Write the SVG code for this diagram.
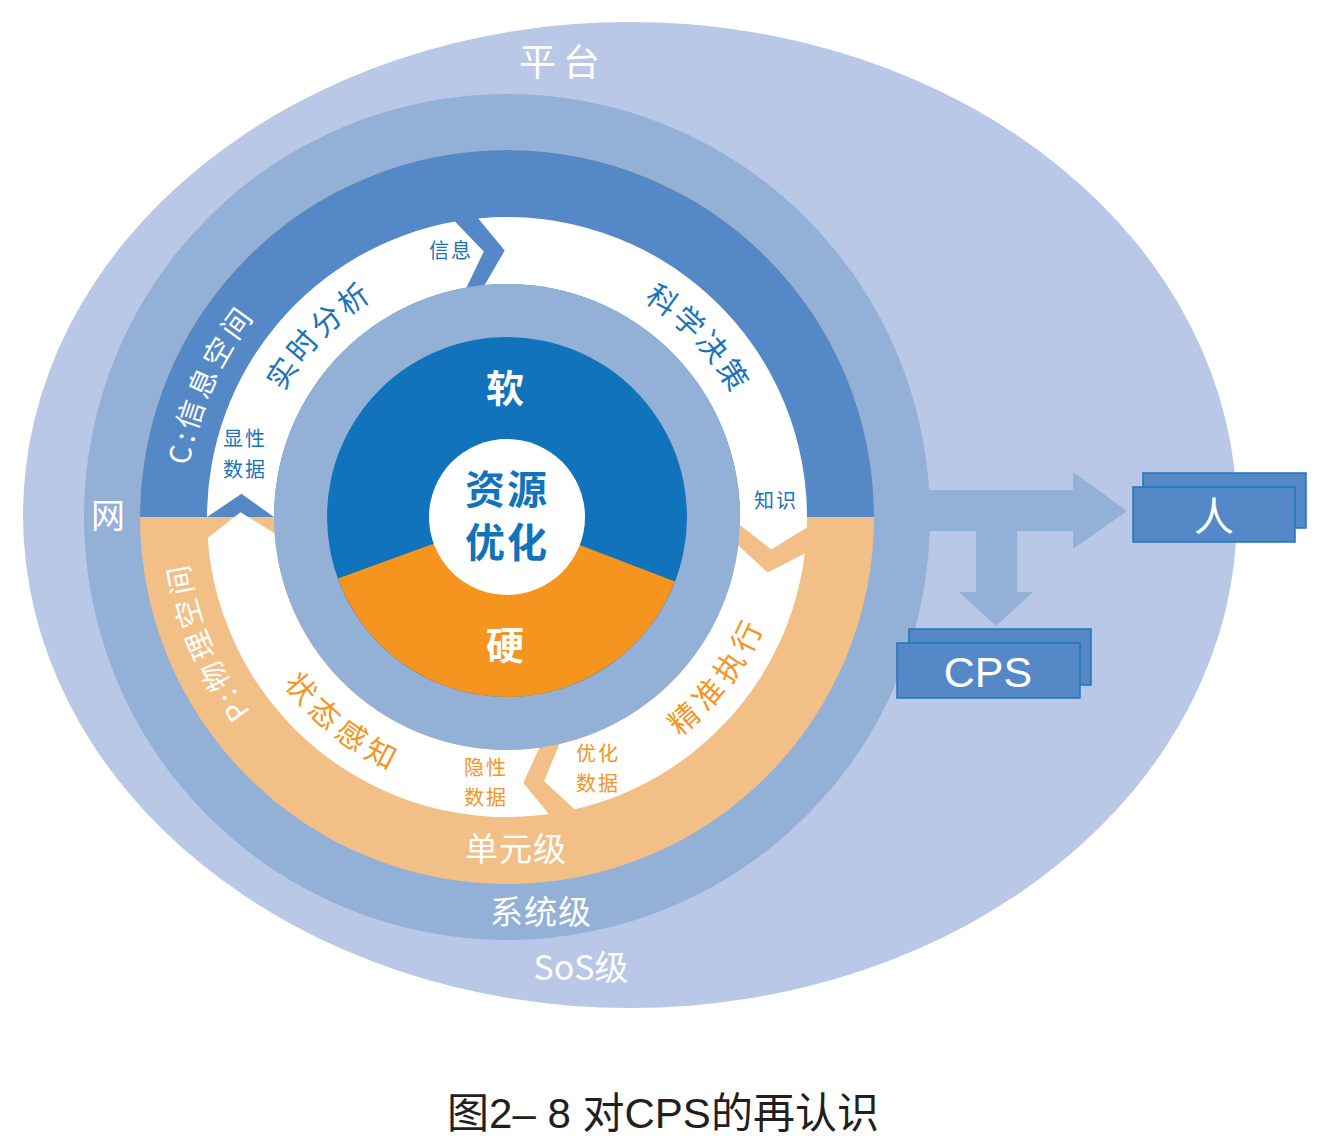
<svg xmlns="http://www.w3.org/2000/svg" xmlns:xlink="http://www.w3.org/1999/xlink" width="1329" height="1136" viewBox="0 0 1329 1136">
<style>
text{font-family:"Noto Sans CJK SC","Liberation Sans",sans-serif;}
.w{fill:#ffffff;}
.b{fill:#1a74bb;}
.o{fill:#f5941e;}
.c{text-anchor:middle;dominant-baseline:central;}
.lbl{font-size:20px;letter-spacing:2px;text-anchor:middle;}
.arc{font-size:30px;letter-spacing:3px;}
.band{font-size:29px;letter-spacing:4px;}
.box{fill:#5588c7;stroke:#1f74bb;stroke-width:1.5;}
</style>
<defs>
<path id="pC" d="M197.5,605.7 A322,322 0 0 1 365.8,227.6"/>
<path id="pP" d="M358.3,802.6 A322,322 0 0 1 199.9,420.2"/>
<path id="pA" d="M251.6,499.1 A256,256 0 0 1 480.2,262.4"/>
<path id="pB" d="M538.2,262.9 A256,256 0 0 1 762.6,503.6"/>
<path id="pE" d="M569.8,788.8 A279,279 0 0 0 785.6,502.4"/>
<path id="pD" d="M233.6,572.6 A279,279 0 0 0 514.3,795.9"/>
</defs>

<g id="platform">
<ellipse cx="630" cy="515" rx="607" ry="493" fill="#b8c8e6"/>
<text class="w c" x="563" y="60" style="font-size:37px;letter-spacing:7px">平台</text>
<text class="w c" x="581" y="965" style="font-size:34px">SoS级</text>
</g>

<g id="system">
<circle cx="507" cy="517" r="423" fill="#93b0d7"/>
<text class="w c" x="108" y="513" style="font-size:34px">网</text>
<text class="w c" x="541" y="910" style="font-size:33px;letter-spacing:1px">系统级</text>
</g>

<g id="unit">
<circle cx="507" cy="517" r="367" fill="#f2bf86"/>
<path d="M140,517 A367,367 0 0 1 874,517 Z" fill="#5588c7"/>
<text class="w c" x="516" y="847" style="font-size:33px;letter-spacing:1px">单元级</text>
<text class="w band"><textPath href="#pC" xlink:href="#pC" startOffset="50%" text-anchor="middle">C:信息空间</textPath></text>
<text class="w band"><textPath href="#pP" xlink:href="#pP" startOffset="50%" text-anchor="middle">P:物理空间</textPath></text>
</g>

<g id="seg-analysis">
<path d="M207,517 A300,300 0 0 1 454.9,221.6 L483.8,251.5 L466.5,287.5 A233,233 0 0 0 274,517 L241.5,493.8 Z" fill="#ffffff"/>
<text class="b arc"><textPath href="#pA" xlink:href="#pA" startOffset="50%" text-anchor="middle">实时分析</textPath></text>
</g>
<g id="seg-decision">
<path d="M478.2,218.4 A300,300 0 0 1 806.8,527.5 L771.5,549.5 L739.9,525.1 A233,233 0 0 0 484.7,285.1 L504.7,250.5 Z" fill="#ffffff"/>
<text class="b arc"><textPath href="#pB" xlink:href="#pB" startOffset="50%" text-anchor="middle">科学决策</textPath></text>
</g>
<g id="seg-execution">
<path d="M804.8,553.6 A300,300 0 0 1 574.5,809.3 L544.1,780.9 L559.4,744.0 A233,233 0 0 0 738.3,545.4 L767.7,572.4 Z" fill="#ffffff"/>
<text class="o arc" style="letter-spacing:6px"><textPath href="#pE" xlink:href="#pE" startOffset="50%" text-anchor="middle">精准执行</textPath></text>
</g>
<g id="seg-sensing">
<path d="M548.8,814.1 A300,300 0 0 1 207.7,537.9 L240.5,512.3 L274.6,533.3 A233,233 0 0 0 539.4,747.7 L523.3,783.0 Z" fill="#ffffff"/>
<text class="o arc" style="letter-spacing:6px"><textPath href="#pD" xlink:href="#pD" startOffset="50%" text-anchor="middle">状态感知</textPath></text>
</g>

<g id="labels">
<text class="b lbl" x="451" y="258">信息</text>
<text class="b lbl" x="245" y="446"><tspan x="245">显性</tspan><tspan x="245" dy="31">数据</tspan></text>
<text class="b lbl" x="776" y="508">知识</text>
<text class="o lbl" x="486" y="775"><tspan x="486">隐性</tspan><tspan x="486" dy="30">数据</tspan></text>
<text class="o lbl" x="598" y="761"><tspan x="598">优化</tspan><tspan x="598" dy="30">数据</tspan></text>
</g>

<g id="core">
<circle cx="507" cy="517" r="233" fill="#93b0d7"/>
<circle cx="507" cy="517" r="180" fill="#1073bb"/>
<path d="M507,517 L675,581.5 A180,180 0 0 1 337.9,578.6 Z" fill="#f5941e"/>
<circle cx="507" cy="517" r="78" fill="#ffffff"/>
<text class="w c" x="505" y="385" style="font-size:38px;font-weight:bold">软</text>
<text class="w c" x="505" y="642" style="font-size:38px;font-weight:bold">硬</text>
<text class="c" x="507" y="487" style="font-size:40px;font-weight:bold;fill:#1073bb;letter-spacing:2px">资源</text>
<text class="c" x="507" y="540" style="font-size:40px;font-weight:bold;fill:#1073bb;letter-spacing:2px">优化</text>
</g>

<g id="connectors">
<polygon points="900,490 1073,490 1073,472 1127,511 1073,549 1073,531 1017,531 1017,592 1033,592 996,626 959,592 976,592 976,531 900,531" fill="#93b0d7"/>
</g>

<g id="node-ren">
<rect class="box" x="1143" y="473" width="163" height="55"/>
<rect class="box" x="1133" y="487" width="162" height="55"/>
<text class="w c" x="1214" y="514" style="font-size:40px">人</text>
</g>

<g id="node-cps">
<rect class="box" x="909" y="629" width="182" height="56"/>
<rect class="box" x="897" y="643" width="183" height="55"/>
<text class="w" x="988" y="687" text-anchor="middle" style="font-family:'Liberation Sans',sans-serif;font-size:43px">CPS</text>
</g>

<g id="caption">
<text x="663" y="1128" text-anchor="middle" style="font-family:'Liberation Sans','Noto Sans CJK SC',sans-serif;font-size:42px;fill:#231f20">图2– 8 对CPS的再认识</text>
</g>
</svg>
